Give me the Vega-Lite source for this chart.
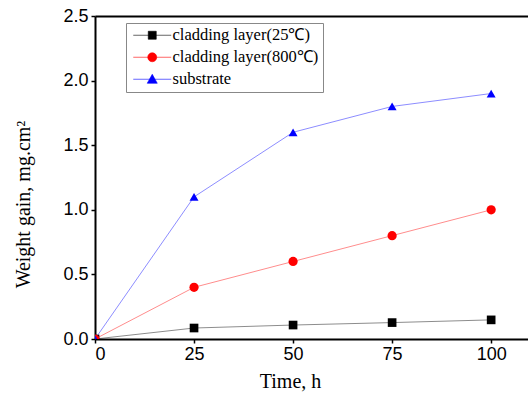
{
  "$schema": "https://vega.github.io/schema/vega-lite/v6.json",
  "width": 433,
  "height": 323,
  "autosize": {"type": "none"},
  "padding": {"left": 95, "top": 16, "right": 0, "bottom": 58},
  "background": "white",
  "config": {
    "view": {"stroke": null},
    "axis": {
      "domainColor": "black", "domainWidth": 2, "tickColor": "black", "tickWidth": 1.5, "tickSize": 4,
      "labelFont": "Liberation Sans", "labelFontSize": 18, "labelColor": "black",
      "titleFont": "Liberation Serif", "titleFontSize": 20, "titleFontWeight": "normal", "titleColor": "black",
      "grid": false
    },
    "legend": {"labelFont": "Liberation Serif, Times New Roman, serif"}
  },
  "data": {"values": [
    {"series": "cladding layer(25℃)", "time": 0, "gain": 0},
    {"series": "cladding layer(25℃)", "time": 25, "gain": 0.085},
    {"series": "cladding layer(25℃)", "time": 50, "gain": 0.108},
    {"series": "cladding layer(25℃)", "time": 75, "gain": 0.127},
    {"series": "cladding layer(25℃)", "time": 100, "gain": 0.148},
    {"series": "cladding layer(800℃)", "time": 0, "gain": 0},
    {"series": "cladding layer(800℃)", "time": 25, "gain": 0.4},
    {"series": "cladding layer(800℃)", "time": 50, "gain": 0.6},
    {"series": "cladding layer(800℃)", "time": 75, "gain": 0.8},
    {"series": "cladding layer(800℃)", "time": 100, "gain": 1.0},
    {"series": "substrate", "time": 0, "gain": 0},
    {"series": "substrate", "time": 25, "gain": 1.1},
    {"series": "substrate", "time": 50, "gain": 1.6},
    {"series": "substrate", "time": 75, "gain": 1.8},
    {"series": "substrate", "time": 100, "gain": 1.9}
  ]},
  "layer": [
    {
      "mark": {"type": "line", "strokeWidth": 1, "opacity": 0.45},
      "encoding": {
        "x": {"field": "time", "type": "quantitative", "scale": {"domain": [0, 109.3], "nice": false},
          "axis": {"orient": "bottom", "values": [0, 25, 50, 75, 100], "format": "d", "title": "Time, h", "labelPadding": 2, "titleX": 195, "titleY": 42, "titleBaseline": "middle"}},
        "y": {"field": "gain", "type": "quantitative", "scale": {"domain": [0, 2.5], "nice": false},
          "axis": {"values": [0, 0.5, 1.0, 1.5, 2.0, 2.5], "format": ".1f", "title": "Weight gain, mg.cm²", "labelPadding": 3, "titleX": -72, "titleY": 188, "titleBaseline": "middle", "titleAngle": -90, "titleAlign": "center"}},
        "color": {"field": "series", "type": "nominal", "legend": null,
          "scale": {"domain": ["cladding layer(25℃)", "cladding layer(800℃)", "substrate"], "range": ["#000000", "#ff0000", "#0000ff"]}}
      }
    },
    {
      "transform": [{"filter": "datum.series == 'cladding layer(25℃)'"}],
      "mark": {"type": "point", "filled": true, "opacity": 1, "size": 75, "shape": "square", "clip": true, "color": "#000000"},
      "encoding": {
        "x": {"field": "time", "type": "quantitative",
          "axis": {"orient": "top", "labels": false, "ticks": false, "title": null, "domainWidth": 2}},
        "y": {"field": "gain", "type": "quantitative"}
      }
    },
    {
      "transform": [{"filter": "datum.series == 'cladding layer(800℃)'"}],
      "mark": {"type": "point", "filled": true, "opacity": 1, "size": 85, "shape": "circle", "clip": true, "color": "#ff0000"},
      "encoding": {
        "x": {"field": "time", "type": "quantitative", "axis": null},
        "y": {"field": "gain", "type": "quantitative"}
      }
    },
    {
      "transform": [{"filter": "datum.series == 'substrate'"}],
      "mark": {"type": "point", "filled": true, "opacity": 1, "size": 80, "shape": "triangle-up", "clip": true, "color": "#0000ff"},
      "encoding": {
        "x": {"field": "time", "type": "quantitative", "axis": null},
        "y": {"field": "gain", "type": "quantitative"}
      }
    },
    {
      "mark": {"type": "point", "filled": true, "opacity": 0, "size": 100},
      "encoding": {
        "x": {"field": "time", "type": "quantitative", "axis": null},
        "y": {"field": "gain", "type": "quantitative"},
        "color": {"field": "series", "type": "nominal",
          "legend": {"title": null, "orient": "none", "legendX": 31, "legendY": 7, "padding": 4, "strokeColor": "#888888", "fillColor": "white",
            "labelFont": "Liberation Serif, Times New Roman, serif", "labelFontSize": 16.5, "labelColor": "black", "labelOffset": 26, "rowPadding": 5, "symbolSize": 100, "symbolOpacity": 1, "symbolStrokeWidth": 1, "labelLimit": 300,
            "encode": {"symbols": {"update": {"stroke": {"scale": "color", "field": "value"}, "strokeOpacity": {"value": 0.6}, "fillOpacity": {"value": 1}, "opacity": {"value": 1}}},
              "labels": {"update": {"font": {"value": "Liberation Serif, Times New Roman, serif"}, "fontSize": {"value": 16.5}}}}}},
        "shape": {"field": "series", "type": "nominal",
          "scale": {"domain": ["cladding layer(25℃)", "cladding layer(800℃)", "substrate"],
            "range": ["M-1,0H6.6M2,-0.8H3.6V0.8H2Z", "M-1,0H6.6M3.7,0A0.9,0.9,0,1,1,1.9,0A0.9,0.9,0,1,1,3.7,0Z", "M-1,0H6.6M2.8,-1L3.8,0.8H1.8Z"]},
          "legend": {"title": null, "orient": "none", "legendX": 31, "legendY": 7, "padding": 4, "strokeColor": "#888888", "fillColor": "white",
            "labelFont": "Liberation Serif, Times New Roman, serif", "labelFontSize": 16.5, "labelColor": "black", "labelOffset": 26, "rowPadding": 5, "symbolSize": 100, "symbolOpacity": 1, "symbolStrokeWidth": 1, "labelLimit": 300,
            "encode": {"symbols": {"update": {"stroke": {"scale": "color", "field": "value"}, "strokeOpacity": {"value": 0.6}, "fillOpacity": {"value": 1}, "opacity": {"value": 1}}},
              "labels": {"update": {"font": {"value": "Liberation Serif, Times New Roman, serif"}, "fontSize": {"value": 16.5}}}}}}
      }
    }
  ],
  "resolve": {"axis": {"x": "independent"}, "legend": {"color": "independent", "shape": "independent"}}
}
